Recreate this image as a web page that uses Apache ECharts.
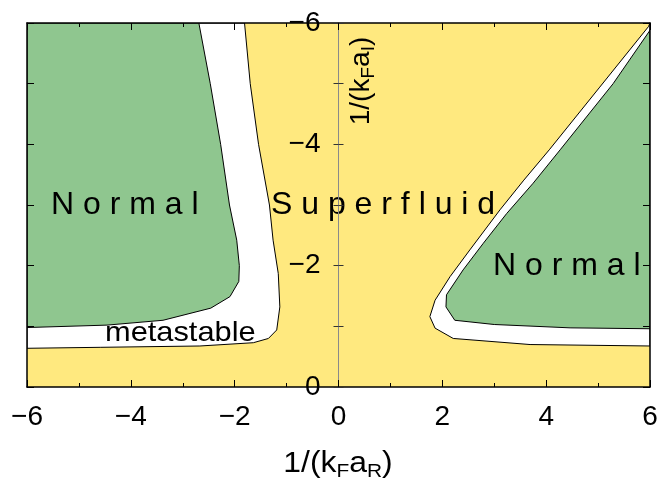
<!DOCTYPE html>
<html>
<head>
<meta charset="utf-8">
<script src="https://cdn.jsdelivr.net/npm/echarts@6/dist/echarts.min.js"></script>
<style>
  html, body { margin: 0; padding: 0; background: #fff; }
  #main { width: 657px; height: 483px; }
</style>
</head>
<body>
<div id="main"></div>
<script>
// phase boundaries, [1/(kF aR), 1/(kF aI)]
var leftMetastable = [[-6, -6], [-1.81, -6], [-1.70, -5], [-1.54, -4], [-1.33, -3], [-1.26, -2.42],
    [-1.16, -1.87], [-1.13, -1.32], [-1.19, -0.94], [-1.35, -0.80], [-1.64, -0.73], [-2.67, -0.676],
    [-4.59, -0.654], [-6, -0.638]];
var leftNormal = [[-6, -6], [-2.69, -6], [-2.47, -5], [-2.27, -4], [-2.10, -3], [-1.96, -2.42],
    [-1.91, -2.0], [-1.92, -1.74], [-2.09, -1.49], [-2.46, -1.30], [-3.38, -1.10], [-4.46, -1.02],
    [-6, -0.98]];
var rightMetastable = [[5.97, -5.94], [5.02, -4.93], [4.06, -3.91], [3.57, -3.41], [3.11, -2.92],
    [2.53, -2.26], [2.15, -1.82], [1.86, -1.43], [1.76, -1.16], [1.86, -0.97], [2.21, -0.80],
    [3.69, -0.70], [6, -0.676], [6, -6]];
var rightNormal = [[6, -5.88], [5.29, -5.0], [4.27, -3.91], [3.75, -3.36], [3.24, -2.86], [2.79, -2.37],
    [2.40, -1.93], [2.08, -1.52], [2.07, -1.32], [2.24, -1.10], [3.0, -1.03], [4.46, -0.975],
    [6, -0.96]];

var xRange = [-6, 6];
var yRange = [-6, 0];

var yellow = '#FFE97F';
var green = '#8FC68F';
var font = 'Liberation Sans, Arial, Helvetica, sans-serif';

// grid box in pixels; middle axis sits at x = 0
var gridLeft = 27, gridRight = 7, gridWidth = 657 - 27 - 7;
var midOffset = -gridWidth / 2;

var myChart = echarts.init(document.getElementById('main'));

function minus(v) {
    return String(v).replace('-', '\u2212');
}

function polygon(points, fill) {
    return {
        type: 'custom',
        coordinateSystem: 'cartesian2d',
        xAxisIndex: 0,
        yAxisIndex: 0,
        clip: true,
        silent: true,
        z: 1,
        data: [[0, -3]],
        renderItem: function (params, api) {
            return {
                type: 'polygon',
                shape: {
                    points: points.map(function (p) { return api.coord(p); })
                },
                style: { fill: fill, stroke: '#000', lineWidth: 1 }
            };
        }
    };
}

function frameX(pos, labels) {
    return {
        type: 'value', position: pos, min: xRange[0], max: xRange[1], interval: 2, z: 10,
        axisLine: { onZero: false, lineStyle: { color: '#000', width: 1.5 } },
        axisTick: { inside: true, length: 7, lineStyle: { color: '#000', width: 1 } },
        minorTick: { show: true, splitNumber: 2, length: 4, lineStyle: { color: '#000', width: 1 } },
        axisLabel: {
            show: labels, margin: 16, color: '#000', fontSize: 28, fontFamily: font,
            formatter: minus
        },
        splitLine: { show: false }
    };
}

function frameY(pos) {
    return {
        type: 'value', position: pos, min: yRange[0], max: yRange[1], inverse: true, interval: 1, z: 10,
        axisLine: { onZero: false, lineStyle: { color: '#000', width: 1.5 } },
        axisTick: { inside: true, length: 7, lineStyle: { color: '#000', width: 1 } },
        axisLabel: { show: false },
        splitLine: { show: false }
    };
}

var option = {
    animation: false,
    grid: {
        left: gridLeft, right: gridRight, top: 23, bottom: 96,
        outerBoundsMode: 'none', containLabel: false,
        show: true, backgroundColor: yellow, borderWidth: 0
    },
    xAxis: [frameX('bottom', true), frameX('top', false)],
    yAxis: [
        frameY('left'),
        frameY('right'),
        {
            // middle axis carrying the labels
            type: 'value', position: 'left', offset: midOffset,
            min: yRange[0], max: yRange[1], inverse: true, interval: 1, z: 10,
            axisLine: { onZero: false, lineStyle: { color: '#8a8a8a', width: 1 } },
            axisTick: { inside: false, length: 5, lineStyle: { color: '#333', width: 1 } },
            axisLabel: {
                margin: 18, color: '#000', fontSize: 28, fontFamily: font,
                formatter: function (v) { return v % 2 === 0 ? minus(v) : ''; }
            },
            splitLine: { show: false }
        },
        {
            // right half of the crossing ticks on the middle axis
            type: 'value', position: 'left', offset: midOffset,
            min: yRange[0], max: yRange[1], inverse: true, interval: 1, z: 10,
            axisLine: { show: false, onZero: false },
            axisTick: { inside: true, length: 5, lineStyle: { color: '#333', width: 1 } },
            axisLabel: { show: false },
            splitLine: { show: false }
        }
    ],
    graphic: [
        {
            type: 'text', x: 51, y: 205, z: 10,
            style: { text: 'N o r m a l', font: '32px ' + font, fill: '#000', align: 'left', verticalAlign: 'middle' }
        },
        {
            type: 'text', x: 271, y: 205, z: 10,
            style: { text: 'S u p e r f l u i d', font: '32px ' + font, fill: '#000', align: 'left', verticalAlign: 'middle' }
        },
        {
            type: 'text', x: 493, y: 266, z: 10,
            style: { text: 'N o r m a l', font: '32px ' + font, fill: '#000', align: 'left', verticalAlign: 'middle' }
        },
        {
            type: 'text', x: 105, y: 333, z: 10, scaleX: 1.1,
            style: { text: 'metastable', font: '28px ' + font, fill: '#000', align: 'left', verticalAlign: 'middle' }
        },
        {
            type: 'text', x: 338, y: 464, z: 10, scaleX: 1.1,
            style: {
                text: '{m|1/(k}{s|F}{m|a}{s|R}{m|)}',
                align: 'center', verticalAlign: 'middle',
                rich: {
                    m: { fontSize: 29, fontFamily: font, fill: '#000', lineHeight: 34 },
                    s: { fontSize: 19, fontFamily: font, fill: '#000', lineHeight: 14, verticalAlign: 'bottom' }
                }
            }
        },
        {
            type: 'text', x: 361, y: 81, z: 10, rotation: Math.PI / 2,
            style: {
                text: '{m|1/(k}{s|F}{m|a}{s|I}{m|)}',
                align: 'center', verticalAlign: 'middle',
                rich: {
                    m: { fontSize: 28, fontFamily: font, fill: '#000', lineHeight: 34 },
                    s: { fontSize: 19, fontFamily: font, fill: '#000', lineHeight: 14, verticalAlign: 'bottom' }
                }
            }
        }
    ],
    series: [
        polygon(leftMetastable, '#fff'),
        polygon(leftNormal, green),
        polygon(rightMetastable, '#fff'),
        polygon(rightNormal, green)
    ]
};

myChart.setOption(option);
</script>
</body>
</html>
